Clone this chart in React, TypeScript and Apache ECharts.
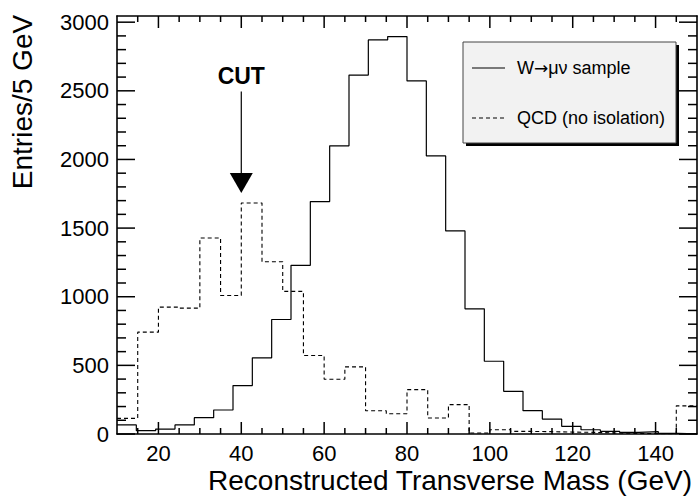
import React, { useEffect, useRef } from "react";
import * as echarts from "echarts";

// ---- data ----
const xRange = [10, 150];
// W -> mu nu sample: 30 bins over xRange
const wValues = [
  66, 24, 36, 66, 119, 175, 353, 555, 834, 1229,
  1693, 2099, 2615, 2871, 2895, 2572, 2026, 1479, 912, 530,
  311, 170, 109, 56, 31, 19, 12, 17, 5, 1,
];
// QCD (no isolation): 28 bins of 5 GeV over xRange
const qcdValues = [
  114, 742, 924, 917, 1428, 1009, 1683, 1255, 1039, 572,
  399, 489, 169, 148, 323, 117, 214, 7, 31, 19,
  17, 14, 12, 8, 5, 3, 2, 205,
];
const xTickLabels = [20, 40, 60, 80, 100, 120, 140];
const yTickLabels = [0, 500, 1000, 1500, 2000, 2500, 3000];
const xMinorStep = 5;
const yMinorStep = 100;
const yMax = 3045;
const cutValue = 40;
const cutArrowTip = 1755;
const cutArrowTop = 2495;
const cutTextLevel = 2608;

const FONT = '"Liberation Sans", Arial, Helvetica, sans-serif';

function stepPoints(vals: number[], lo: number, hi: number) {
  const w = (hi - lo) / vals.length;
  const pts: number[][] = vals.map((v, i) => [lo + i * w, v]);
  pts.push([hi, vals[vals.length - 1]]);
  return pts;
}

function minorList(lo: number, hi: number, step: number, majors: number[]) {
  const out: number[] = [];
  for (let v = lo; v < hi - 1e-9; v += step) {
    if (v > lo + 1e-9 && !majors.includes(Math.round(v))) out.push(Math.round(v));
  }
  return out;
}

export default function App() {
  const ref = useRef<HTMLDivElement>(null);
  useEffect(() => {
    document.body.style.margin = "0";
    if (!ref.current) return;
    const chart = echarts.init(ref.current, undefined, { renderer: "svg" });

    const frame = () => ({ color: "#000", width: 1.6 });

    const xAxisOf = (position: string, label: boolean) => ({
      type: "value",
      min: xRange[0],
      max: xRange[1],
      position,
      axisLine: { show: true, onZero: false, lineStyle: frame() },
      axisTick: { show: false },
      axisLabel: {
        show: label,
        customValues: xTickLabels,
        fontSize: 22,
        color: "#000",
        fontFamily: FONT,
        margin: 8,
        formatter: (v: number) => String(v),
      },
      splitLine: { show: false },
    });
    const yAxisOf = (position: string, label: boolean) => ({
      type: "value",
      min: 0,
      max: yMax,
      position,
      axisLine: { show: true, onZero: false, lineStyle: frame() },
      axisTick: { show: false },
      axisLabel: {
        show: label,
        customValues: yTickLabels,
        fontSize: 22,
        color: "#000",
        fontFamily: FONT,
        margin: 8,
        formatter: (v: number) => String(v),
      },
      splitLine: { show: false },
    });

    chart.setOption({
      animation: false,
      grid: { left: 117, right: 2, top: 16, bottom: 63 },
      xAxis: [xAxisOf("bottom", true), xAxisOf("top", false)],
      yAxis: [yAxisOf("left", true), yAxisOf("right", false)],
      series: [
        {
          name: "W→μν sample",
          type: "line",
          step: "end",
          xAxisIndex: 0,
          yAxisIndex: 0,
          symbol: "none",
          silent: true,
          data: stepPoints(wValues, xRange[0], xRange[1]),
          lineStyle: { color: "#000", width: 1.2 },
        },
        {
          name: "QCD (no isolation)",
          type: "line",
          step: "end",
          xAxisIndex: 0,
          yAxisIndex: 0,
          symbol: "none",
          silent: true,
          data: stepPoints(qcdValues, xRange[0], xRange[1]),
          lineStyle: { color: "#000", width: 1.1, type: [4, 3] },
        },
      ],
    });

    const toPx = (x: number, y: number) =>
      chart.convertToPixel({ xAxisIndex: 0, yAxisIndex: 0 }, [x, y]) as number[];

    // inward ticks on all four sides, positioned through the axis scales
    const lb = toPx(xRange[0], 0);
    const rt = toPx(xRange[1], yMax);
    const leftPx = lb[0];
    const bottomPx = lb[1];
    const rightPx = rt[0];
    const topPx = rt[1];
    const tickEls: any[] = [];
    const addX = (v: number, len: number) => {
      const px = toPx(v, 0)[0];
      tickEls.push({ type: "line", z: 40, shape: { x1: px, y1: bottomPx, x2: px, y2: bottomPx - len }, style: { stroke: "#000", lineWidth: 1.5 } });
      tickEls.push({ type: "line", z: 40, shape: { x1: px, y1: topPx, x2: px, y2: topPx + len }, style: { stroke: "#000", lineWidth: 1.5 } });
    };
    const addY = (v: number, len: number) => {
      const py = toPx(xRange[0], v)[1];
      tickEls.push({ type: "line", z: 40, shape: { x1: leftPx, y1: py, x2: leftPx + len, y2: py }, style: { stroke: "#000", lineWidth: 1.5 } });
      tickEls.push({ type: "line", z: 40, shape: { x1: rightPx, y1: py, x2: rightPx - len, y2: py }, style: { stroke: "#000", lineWidth: 1.5 } });
    };
    xTickLabels.forEach((v) => addX(v, 12));
    minorList(xRange[0], xRange[1], xMinorStep, xTickLabels).forEach((v) => addX(v, 6));
    yTickLabels.forEach((v) => addY(v, 18));
    minorList(0, yMax, yMinorStep, yTickLabels).forEach((v) => addY(v, 9));

    const tip = toPx(cutValue, cutArrowTip);
    const top = toPx(cutValue, cutArrowTop);
    const txt = toPx(cutValue, cutTextLevel);
    const triH = 20;
    const triW = 23;

    chart.setOption({
      graphic: [
        ...tickEls,
        // CUT annotation
        {
          type: "text",
          x: txt[0],
          y: txt[1],
          z: 20,
          style: { text: "CUT", fontSize: 23, fontWeight: "bold", fontFamily: FONT, fill: "#000", align: "center", verticalAlign: "middle" },
        },
        {
          type: "line",
          z: 20,
          shape: { x1: top[0], y1: top[1], x2: tip[0], y2: tip[1] - triH },
          style: { stroke: "#000", lineWidth: 1.2 },
        },
        {
          type: "polygon",
          z: 20,
          shape: { points: [[tip[0] - triW / 2, tip[1] - triH], [tip[0] + triW / 2, tip[1] - triH], [tip[0], tip[1]]] },
          style: { fill: "#000" },
        },
        // legend box with drop shadow
        { type: "rect", z: 50, shape: { x: 466, y: 45, width: 213, height: 101 }, style: { fill: "#000" } },
        { type: "rect", z: 51, shape: { x: 463, y: 42, width: 213, height: 101 }, style: { fill: "#f2f2f2", stroke: "#444", lineWidth: 1 } },
        { type: "line", z: 52, shape: { x1: 472, y1: 68, x2: 505, y2: 68 }, style: { stroke: "#000", lineWidth: 1.2 } },
        { type: "line", z: 52, shape: { x1: 472, y1: 118, x2: 505, y2: 118 }, style: { stroke: "#000", lineWidth: 1.1, lineDash: [4, 3] } },
        {
          type: "text",
          z: 52,
          x: 517,
          y: 68,
          style: {
            text: "{a|W}{b|→}{a|μν sample}",
            fill: "#000",
            align: "left",
            verticalAlign: "middle",
            rich: {
              a: { fontSize: 18, fontFamily: FONT, fill: "#000" },
              b: { fontSize: 17, fontFamily: '"DejaVu Sans", sans-serif', fill: "#000" },
            },
          },
        },
        { type: "text", z: 52, x: 517, y: 118, style: { text: "QCD (no isolation)", fontSize: 18, fontFamily: FONT, fill: "#000", align: "left", verticalAlign: "middle" } },
        // axis titles
        {
          type: "text",
          x: 692,
          y: 480,
          style: { text: "Reconstructed Transverse Mass (GeV)", fontSize: 28, fontFamily: FONT, fill: "#000", align: "right", verticalAlign: "middle" },
        },
        {
          type: "text",
          x: 22,
          y: 102,
          rotation: Math.PI / 2,
          style: { text: "Entries/5 GeV", fontSize: 28, fontFamily: FONT, fill: "#000", align: "center", verticalAlign: "middle" },
        },
      ],
    });

    return () => chart.dispose();
  }, []);
  return <div ref={ref} style={{ width: 699, height: 497 }} />;
}
